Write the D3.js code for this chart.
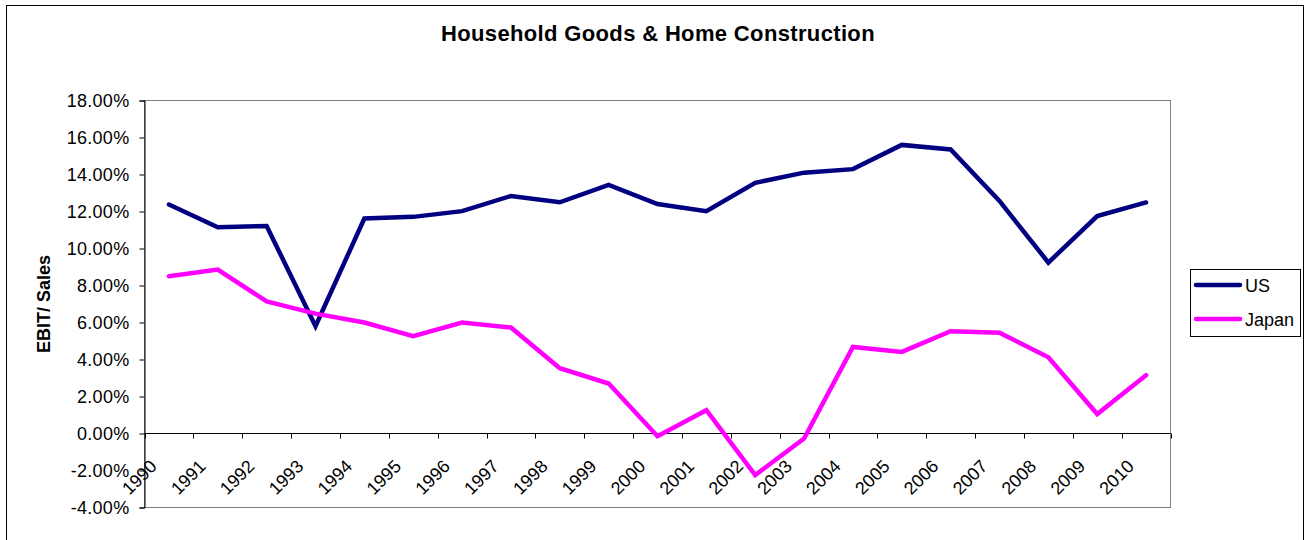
<!DOCTYPE html>
<html>
<head>
<meta charset="utf-8">
<script src="https://cdn.jsdelivr.net/npm/d3@7"></script>
<style>
  html, body { margin: 0; padding: 0; background: #fff; }
  svg { display: block; font-family: "Liberation Sans", Arial, sans-serif; }
</style>
</head>
<body>
<svg id="chart" width="1309" height="540"></svg>
<script>
const years = ["1990","1991","1992","1993","1994","1995","1996","1997","1998","1999","2000",
               "2001","2002","2003","2004","2005","2006","2007","2008","2009","2010"];
const usValues = [0.1238, 0.1115, 0.1122, 0.0580, 0.1162, 0.1171, 0.1202, 0.1284, 0.1250, 0.1344, 0.1240,
                  0.1202, 0.1355, 0.1410, 0.1429, 0.1560, 0.1535, 0.1257, 0.0924, 0.1175, 0.1249];
const japanValues = [0.0850, 0.0886, 0.0714, 0.0648, 0.0600, 0.0526, 0.0600, 0.0573, 0.0353, 0.0270, -0.0015,
                     0.0126, -0.0225, -0.0027, 0.0468, 0.0441, 0.0553, 0.0545, 0.0412, 0.0105, 0.0315];
const yTicks = [-0.04, -0.02, 0, 0.02, 0.04, 0.06, 0.08, 0.10, 0.12, 0.14, 0.16, 0.18];
const seriesNames = ["US", "Japan"];
const seriesColors = ["#000080", "#FF00FF"];
const titleText = "Household Goods & Home Construction";
const yTitle = "EBIT/ Sales";

const svg = d3.select("#chart");
const plot = {left: 144.5, right: 1170.5, top: 100.5, bottom: 507.5};

// outer chart border
svg.append("rect")
  .attr("x", 6.5).attr("y", 5.5).attr("width", 1297).attr("height", 545)
  .attr("fill", "#fff").attr("stroke", "#000").attr("stroke-width", 1);

const x = d3.scaleBand().domain(years).range([plot.left, plot.right]).padding(0);
const y = d3.scaleLinear().domain([-0.04, 0.18]).range([plot.bottom, plot.top]);

const locale = d3.formatLocale({decimal: ".", thousands: ",", grouping: [3], currency: ["$", ""], minus: "-"});
const fmt = locale.format(".2%");

// plot area border (gray)
svg.append("rect")
  .attr("x", plot.left).attr("y", plot.top)
  .attr("width", plot.right - plot.left).attr("height", plot.bottom - plot.top)
  .attr("fill", "#fff").attr("stroke", "#808080").attr("stroke-width", 1);

// y axis
const yAxis = svg.append("g")
  .attr("transform", `translate(${plot.left},0)`)
  .call(d3.axisLeft(y).tickValues(yTicks).tickFormat(fmt).tickSize(5).tickPadding(10));
yAxis.select(".domain").attr("stroke", "#000");
yAxis.selectAll(".tick line").attr("stroke", "#000");
yAxis.selectAll(".tick text")
  .attr("font-size", 18).attr("fill", "#000")
  .attr("letter-spacing", 0.3)
  .attr("font-family", "'Liberation Sans', Arial, sans-serif");

// x axis at zero line
const y0 = Math.round(y(0)) + 0.5;
svg.append("line")
  .attr("x1", plot.left).attr("x2", plot.right)
  .attr("y1", y0).attr("y2", y0)
  .attr("stroke", "#000");
const tickXs = years.map(d => x(d)).concat([x.range()[1]]);
svg.append("g").selectAll("line").data(tickXs).join("line")
  .attr("x1", d => Math.round(d) + 0.5).attr("x2", d => Math.round(d) + 0.5)
  .attr("y1", y0).attr("y2", y0 + 5)
  .attr("stroke", "#000");

// x labels rotated
svg.append("g").selectAll("text").data(years).join("text")
  .attr("transform", d => `translate(${x(d) + x.bandwidth() / 2 - 11},${y0 + 34}) rotate(-45)`)
  .attr("text-anchor", "end")
  .attr("font-size", 18)
  .attr("fill", "#000")
  .text(d => d);

// lines
const line = d3.line()
  .x((d, i) => x(years[i]) + x.bandwidth() / 2)
  .y(d => y(d));
[usValues, japanValues].forEach((vals, k) => {
  svg.append("path")
    .datum(vals)
    .attr("d", line)
    .attr("fill", "none")
    .attr("stroke", seriesColors[k])
    .attr("stroke-width", 4.5)
    .attr("stroke-linejoin", "miter")
    .attr("stroke-linecap", "round");
});

// title
svg.append("text")
  .attr("x", 658).attr("y", 41)
  .attr("text-anchor", "middle")
  .attr("font-size", 22).attr("font-weight", "bold")
  .attr("letter-spacing", 0.35)
  .attr("fill", "#000")
  .text(titleText);

// y title
svg.append("text")
  .attr("transform", `translate(50,${(plot.top + plot.bottom) / 2}) rotate(-90)`)
  .attr("text-anchor", "middle")
  .attr("font-size", 18).attr("font-weight", "bold")
  .attr("fill", "#000")
  .text(yTitle);

// legend
const legend = svg.append("g");
legend.append("rect")
  .attr("x", 1190.5).attr("y", 269.5).attr("width", 110).attr("height", 67)
  .attr("fill", "#fff").attr("stroke", "#000");
seriesNames.forEach((name, i) => {
  const ly = 285 + i * 34;
  legend.append("line")
    .attr("x1", 1196).attr("x2", 1240).attr("y1", ly).attr("y2", ly)
    .attr("stroke", seriesColors[i]).attr("stroke-width", 4.5).attr("stroke-linecap", "round");
  legend.append("text")
    .attr("x", 1245).attr("y", ly + 7)
    .attr("font-size", 18).attr("fill", "#000")
    .text(name);
});
</script>
</body>
</html>
